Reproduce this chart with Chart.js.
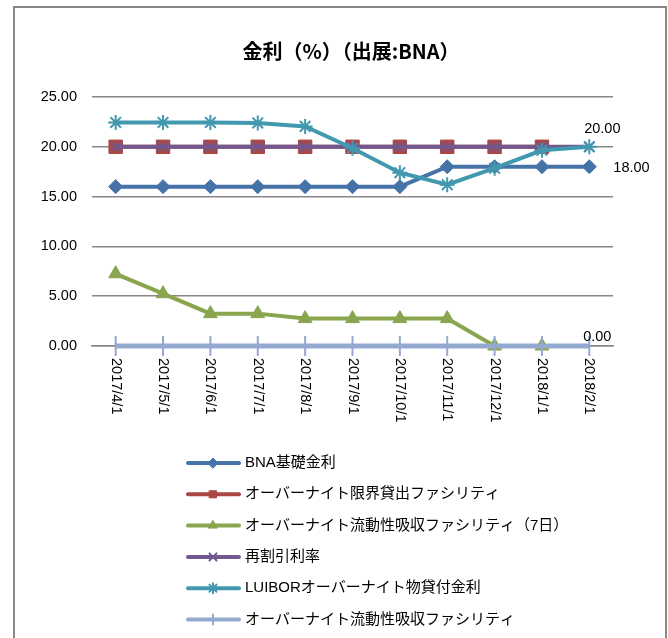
<!DOCTYPE html>
<html>
<head>
<meta charset="utf-8">
<script src="https://cdn.jsdelivr.net/npm/chart.js@4"></script>
<style>
  body { margin: 0; background: #fff; }
  #wrap { position: relative; width: 668px; height: 638px; overflow: hidden; }
  #frame { position: absolute; left: 13px; top: 6px; width: 650px; height: 660px; border: 2px solid #878787; }
  #c { position: absolute; left: 0; top: 0; }
</style>
</head>
<body>
<div id="wrap">
  <div id="frame"></div>
  <canvas id="c" width="668" height="638"></canvas>
</div>
<script>
const months = ['2017/4/1', '2017/5/1', '2017/6/1', '2017/7/1', '2017/8/1', '2017/9/1',
                '2017/10/1', '2017/11/1', '2017/12/1', '2018/1/1', '2018/2/1'];

const bnaBase = [16, 16, 16, 16, 16, 16, 16, 18, 18, 18, 18];
const lendingFacility = [20, 20, 20, 20, 20, 20, 20, 20, 20, 20, null];
const absorb7d = [7.25, 5.25, 3.25, 3.25, 2.75, 2.75, 2.75, 2.75, 0, 0, null];
const rediscount = [20, 20, 20, 20, 20, 20, 20, 20, 20, 20, 20];
const luibor = [22.45, 22.45, 22.45, 22.4, 22.05, 19.85, 17.4, 16.2, 17.85, 19.65, 20];
const absorbOvernight = [0, 0, 0, 0, 0, 0, 0, 0, 0, 0, 0];

const yTicks = [0, 5, 10, 15, 20, 25];

const names = ['BNA基礎金利', 'オーバーナイト限界貸出ファシリティ', 'オーバーナイト流動性吸収ファシリティ（7日）',
               '再割引利率', 'LUIBORオーバーナイト物貸付金利', 'オーバーナイト流動性吸収ファシリティ'];

const FONT = '"Liberation Sans", "Noto Sans CJK JP", sans-serif';

// later series sit on top, as in the original
function series(i, data, color, style, radius, extra) {
    return Object.assign({
        label: names[i],
        data: data,
        borderColor: color,
        backgroundColor: color,
        pointBackgroundColor: color,
        pointBorderColor: color,
        pointStyle: style,
        pointRadius: radius,
        pointBorderWidth: 1,
        borderWidth: 4,
        tension: 0,
        order: 10 - i,
        clip: false,
        spanGaps: false
    }, extra || {});
}

const datasets = [
    series(0, bnaBase, '#4572A7', 'rectRot', 7),
    series(1, lendingFacility, '#AA4643', 'rect', 9.5),
    series(2, absorb7d, '#89A54E', 'triangle', 8),
    series(3, rediscount, '#71588F', 'crossRot', 7, { pointBorderWidth: 2 }),
    series(4, luibor, '#4198AF', 'star', 7.5, { pointBorderWidth: 2 }),
    series(5, absorbOvernight, '#93A9CF', 'line', 10, { pointRotation: 90, pointBorderWidth: 2, borderWidth: 5 })
];

// value labels at the last point: [dataset, dx, dy, align]
const endLabels = [[4, 13, -18, 'center'], [0, 24, 1, 'left'], [5, 8, -9, 'center']];

const drawPt = (ctx, opts, x, y) => {
    if (Chart.helpers && Chart.helpers.drawPoint) Chart.helpers.drawPoint(ctx, opts, x, y);
};

const extras = {
    id: 'extras',
    afterDraw(chart) {
        const ctx = chart.ctx;
        const xs = chart.scales.x, ys = chart.scales.y;
        ctx.save();

        // title
        ctx.fillStyle = '#000';
        ctx.font = 'bold 20px "Noto Sans CJK JP", sans-serif';
        ctx.textAlign = 'center';
        ctx.textBaseline = 'middle';
        ctx.fillText('金利（%）（出展:BNA）', 351, 51);

        // category labels, rotated to read top to bottom
        ctx.font = '14.5px ' + FONT;
        ctx.textAlign = 'left';
        months.forEach((m, i) => {
            const x = xs.getPixelForTick(i);
            ctx.save();
            ctx.translate(x, 358);
            ctx.rotate(Math.PI / 2);
            ctx.fillText(m, 0, 0);
            ctx.restore();
        });

        // end-point value labels
        ctx.font = '14.5px ' + FONT;
        endLabels.forEach(([d, dx, dy, align]) => {
            const data = chart.data.datasets[d].data;
            const i = data.length - 1;
            const x = xs.getPixelForValue(i), y = ys.getPixelForValue(data[i]);
            ctx.textAlign = align;
            ctx.fillText(data[i].toFixed(2), x + dx, y + dy);
        });

        // legend, one row per series
        ctx.font = '15px ' + FONT;
        ctx.textAlign = 'left';
        chart.data.datasets.forEach((ds, i) => {
            const y = 463 + i * 31.3;
            ctx.strokeStyle = ds.borderColor;
            ctx.lineWidth = 4;
            ctx.lineCap = 'round';
            ctx.beginPath();
            ctx.moveTo(188, y);
            ctx.lineTo(239, y);
            ctx.stroke();
            ctx.fillStyle = ds.borderColor;
            ctx.strokeStyle = ds.borderColor;
            ctx.lineWidth = ds.pointBorderWidth;
            drawPt(ctx, { pointStyle: ds.pointStyle, radius: 5, rotation: ds.pointRotation || 0, borderWidth: ds.pointBorderWidth }, 213, y);
            ctx.fillStyle = '#000';
            ctx.fillText(ds.label, 245, y);
        });
        ctx.restore();
    }
};

new Chart(document.getElementById('c'), {
    type: 'line',
    data: { labels: months, datasets: datasets },
    options: {
        responsive: false,
        animation: false,
        events: [],
        layout: { padding: { left: 13, right: 55, top: 97, bottom: 292 } },
        plugins: {
            legend: { display: false },
            title: { display: false },
            tooltip: { enabled: false }
        },
        scales: {
            x: {
                offset: true,
                grid: { display: false, drawTicks: false },
                border: { display: true, color: '#878787', width: 1.5 },
                ticks: { display: false },
                afterFit(scale) { scale.height = 0; }
            },
            y: {
                min: 0,
                max: 25,
                afterBuildTicks(scale) { scale.ticks = yTicks.map(v => ({ value: v })); },
                grid: { color: '#878787', lineWidth: 1.5, drawTicks: false },
                border: { display: false },
                ticks: {
                    padding: 15,
                    color: '#000',
                    font: { family: FONT, size: 14.5 },
                    callback: v => v.toFixed(2)
                },
                afterFit(scale) { scale.width = 79; }
            }
        }
    },
    plugins: [extras]
});
</script>
</body>
</html>
